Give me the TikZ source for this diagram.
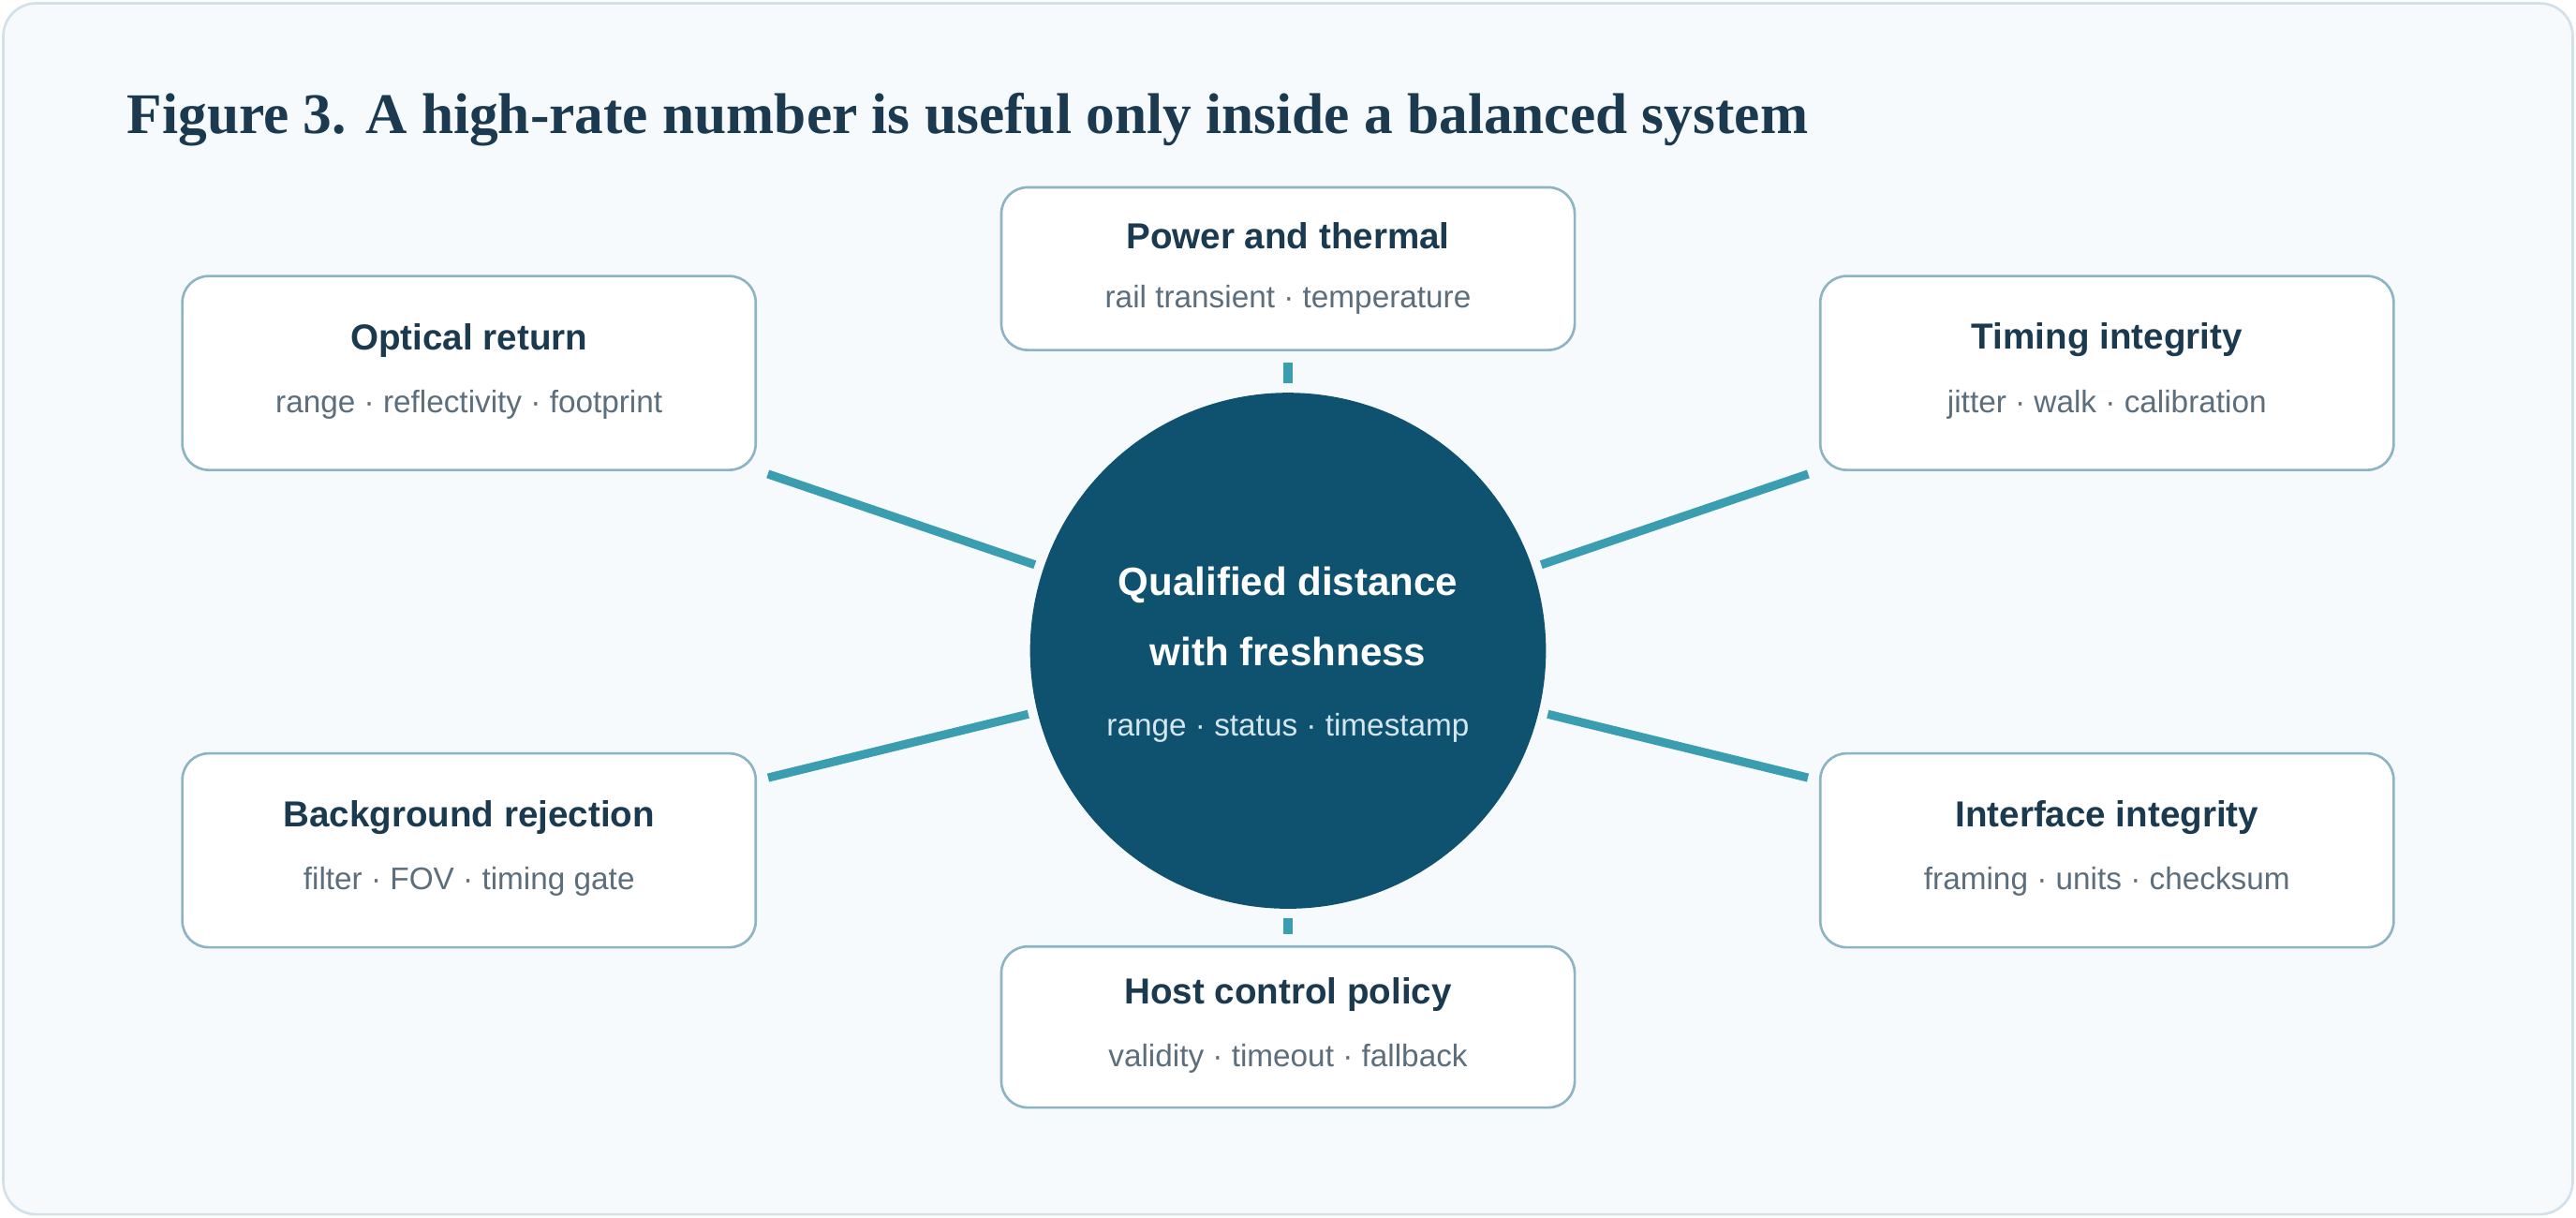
\documentclass[tikz,border=0pt]{standalone}
\usepackage{fontspec}
\setmainfont{Liberation Serif}
\newfontfamily\sansf{Liberation Sans}
\definecolor{pagebg}{HTML}{F7FAFD}
\definecolor{pageedge}{HTML}{D3E0E8}
\definecolor{navy}{HTML}{1B3A4F}
\definecolor{hub}{HTML}{0F5270}
\definecolor{spoke}{HTML}{3A9DB0}
\definecolor{boxedge}{HTML}{8DB4C2}
\definecolor{subgray}{HTML}{5C6E7B}
\definecolor{hubsub}{HTML}{D4E6EE}
\tikzset{every picture/.style={line width=0.75pt}}
\begin{document}
\begin{tikzpicture}[x=0.5pt,y=-0.5pt,
  factor/.style={draw=boxedge, fill=white, rounded corners=8pt, minimum width=174.5pt, minimum height=#1, inner sep=0pt},
  factor/.default=59pt,
  link/.style={draw=spoke, line width=2.6pt, shorten <=2.5pt, shorten >=3.5pt}]
\useasboundingbox (0,0) rectangle (1568,741);

%Background panel
\draw [draw=pageedge, fill=pagebg, rounded corners=10pt] (2,2) rectangle (1566,739);

% Text Node
\node [anchor=west, text=navy, font=\bfseries\fontsize{17.5}{20}\selectfont] (title) at (70,73) {Figure 3. A high-rate number is useful only inside a balanced system};

%Hub
\node [circle, fill=hub, minimum size=157pt, inner sep=0pt] (hub) at (784,396) {};
\node [text=white, align=center, font=\sansf\bfseries\fontsize{12}{21.5}\selectfont] (hubtitle) at (784,375) {Qualified distance\\with freshness};
\node [text=hubsub, font=\sansf\fontsize{9.5}{11}\selectfont] (hubsub) at (784,443) {range · status · timestamp};

%Factor boxes
\node [factor=49.5pt] (power) at (784,163.5) {};
\node [factor] (optical) at (285.5,227) {};
\node [factor] (timing) at (1282.5,227) {};
\node [factor] (background) at (285.5,517.5) {};
\node [factor] (interface) at (1282.5,517.5) {};
\node [factor=49pt] (host) at (784,625) {};

\foreach \fac/\head/\tail in {
  power/Power and thermal/rail transient · temperature,
  optical/Optical return/range · reflectivity · footprint,
  timing/Timing integrity/jitter · walk · calibration,
  background/Background rejection/filter · FOV · timing gate,
  interface/Interface integrity/framing · units · checksum,
  host/Host control policy/validity · timeout · fallback}{
  \node [text=navy, font=\sansf\bfseries\fontsize{11}{13}\selectfont] (\fac-head) at ([yshift=10pt]\fac.center) {\head};
  \node [text=subgray, font=\sansf\fontsize{9.5}{11}\selectfont] (\fac-tail) at ([yshift=-9.5pt]\fac.center) {\tail};
}

%Spokes
\foreach \fac in {power,optical,timing,background,interface,host}
  \path [link] (hub) -- (\fac);

\end{tikzpicture}
\end{document}
